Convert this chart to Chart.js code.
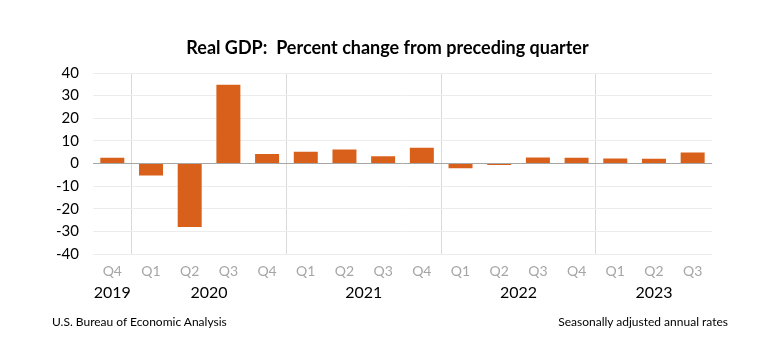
<!DOCTYPE html>
<html>
<head>
<meta charset="utf-8">
<script src="https://cdn.jsdelivr.net/npm/chart.js@4"></script>
<style>
  html, body { margin: 0; padding: 0; background: #fff; }
  #wrap { position: relative; width: 775px; height: 361px; }
  #title { position: absolute; top: 36px; left: 0; width: 775px; text-align: center;
           font: bold 18px/22px Lato, sans-serif; color: #000; }
  .note { position: absolute; top: 314px; font: 12px Lato, sans-serif; color: #000; }
  #src { left: 52px; }
  #rates { right: 47px; }
</style>
</head>
<body>
<div id="wrap">
  <canvas id="chart" width="775" height="361"></canvas>
  <div id="title">Real GDP:&nbsp; Percent change from preceding quarter</div>
  <div class="note" id="src">U.S. Bureau of Economic Analysis</div>
  <div class="note" id="rates">Seasonally adjusted annual rates</div>
</div>
<script>
// Trimestres y valores (variacion % anualizada)
const quarters = ["Q4", "Q1", "Q2", "Q3", "Q4", "Q1", "Q2", "Q3", "Q4", "Q1", "Q2", "Q3", "Q4", "Q1", "Q2", "Q3"];
const years = ["2019", "2020", "2020", "2020", "2020", "2021", "2021", "2021", "2021", "2022", "2022", "2022", "2022", "2023", "2023", "2023"];
const gdpChange = [2.6, -5.3, -28.0, 34.8, 4.2, 5.2, 6.2, 3.3, 7.0, -2.0, -0.6, 2.7, 2.6, 2.2, 2.1, 4.9];
const yTicks = [-40, -30, -20, -10, 0, 10, 20, 30, 40];

const font = "Lato, sans-serif";

// Etiquetas de anio centradas bajo cada grupo de trimestres
const yearLabels = {
  id: "yearLabels",
  afterDraw(chart) {
    const x = chart.scales.x;
    const c = chart.ctx;
    const groups = {};
    years.forEach((y, i) => {
      if (!groups[y]) groups[y] = [];
      groups[y].push(x.getPixelForValue(i));
    });
    c.save();
    c.font = "16px " + font;
    c.fillStyle = "#000";
    c.textAlign = "center";
    c.textBaseline = "middle";
    Object.keys(groups).forEach((y) => {
      const px = groups[y];
      c.fillText(y, (px[0] + px[px.length - 1]) / 2, x.top + 39);
    });
    c.restore();
  },
};

const ctx = document.getElementById("chart").getContext("2d");
new Chart(ctx, {
  type: "bar",
  data: {
    labels: quarters,
    datasets: [{
      data: gdpChange,
      backgroundColor: "#d9601a",
      barPercentage: 0.62,
      categoryPercentage: 1,
    }],
  },
  options: {
    responsive: false,
    animation: false,
    layout: { padding: { left: 42, right: 63, top: 73, bottom: 72 } },
    plugins: {
      legend: { display: false },
      tooltip: { enabled: false },
    },
    scales: {
      x: {
        grid: {
          drawTicks: false,
          color: (c) => ([1, 5, 9, 13].includes(c.index) ? "#d9d9d9" : "transparent"),
        },
        border: { display: false },
        ticks: { color: "#a6a6a6", font: { family: font, size: 14 }, padding: 9, maxRotation: 0, autoSkip: false },
      },
      y: {
        min: -40,
        max: 40,
        afterBuildTicks: (axis) => { axis.ticks = yTicks.map((v) => ({ value: v })); },
        grid: {
          drawTicks: false,
          color: (c) => (c.tick && c.tick.value === 0 ? "#a6a6a6" : "#ececec"),
        },
        border: { display: false },
        ticks: { color: "#000", font: { family: font, size: 15 }, padding: 14 },
      },
    },
  },
  plugins: [yearLabels],
});
</script>
</body>
</html>
